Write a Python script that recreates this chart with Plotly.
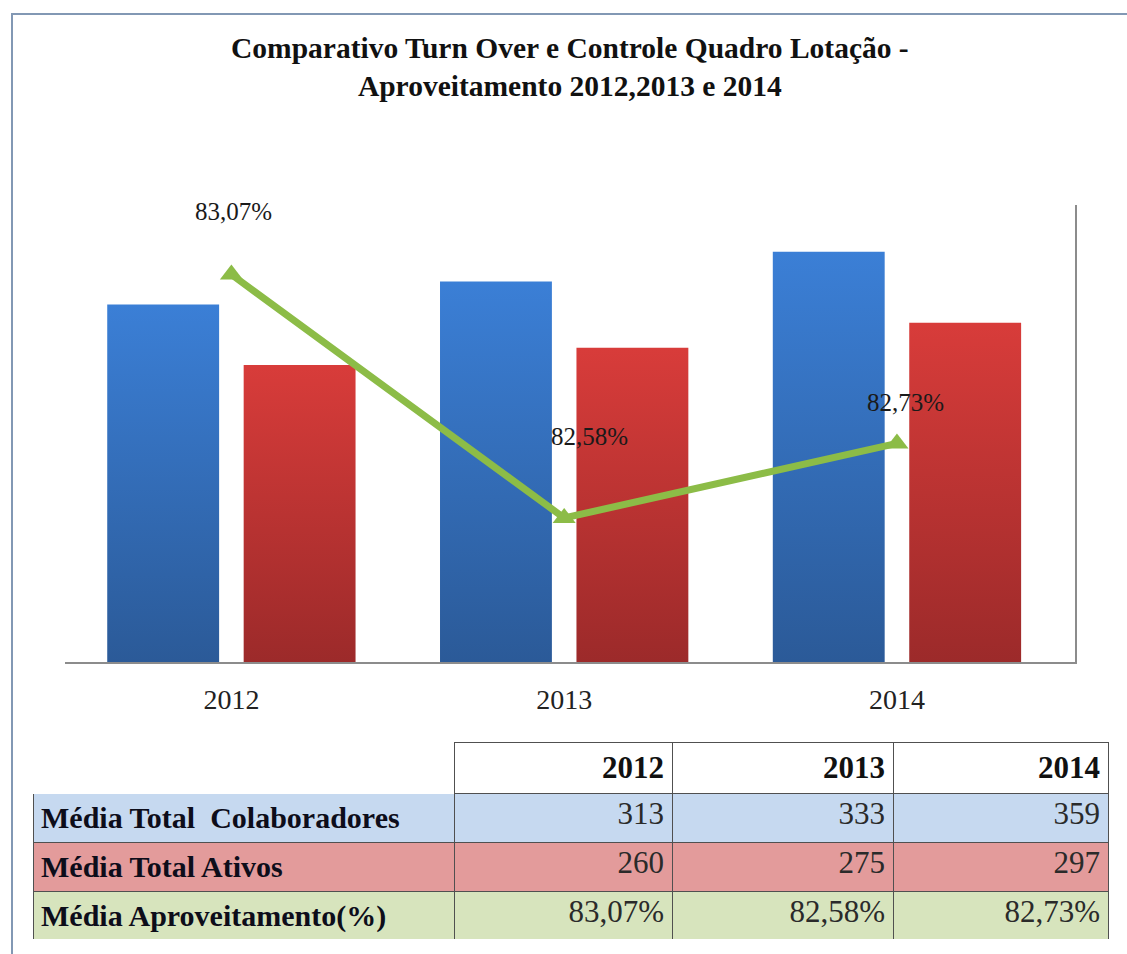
import plotly.graph_objects as go

# ---------------- data ----------------
years = ["2012", "2013", "2014"]
colaboradores = [313, 333, 359]
ativos = [260, 275, 297]
aproveitamento = [83.07, 82.58, 82.73]

row_labels = ["Média Total  Colaboradores", "Média Total Ativos", "Média Aproveitamento(%)"]
title_text = "Comparativo Turn Over e Controle Quadro Lotação -<br>Aproveitamento 2012,2013 e 2014"


def pct(v):
    return f"{v:.2f}".replace(".", ",") + "%"


W, H = 1127, 954
SERIF = "Liberation Serif, Times New Roman, serif"

BLUE = "#336eb9"
RED = "#bd3434"
GREEN = "#8cbc47"

fig = go.Figure()

fig.add_trace(go.Bar(x=years, y=colaboradores, marker=dict(color=BLUE, line=dict(width=0)),
                     name="Média Total Colaboradores", hoverinfo="skip"))
fig.add_trace(go.Bar(x=years, y=ativos, marker=dict(color=RED, line=dict(width=0)),
                     name="Média Total Ativos", hoverinfo="skip"))
fig.add_trace(go.Scatter(x=years, y=aproveitamento, yaxis="y2", mode="lines+markers",
                         line=dict(color=GREEN, width=7),
                         marker=dict(symbol="triangle-up", size=20, color=GREEN),
                         name="Média Aproveitamento(%)", hoverinfo="skip"))

# label offsets (pixels) for the line labels
label_shift = [(2, 63), (25, 81), (9, 41)]
for i, (v, (dx, dy)) in enumerate(zip(aproveitamento, label_shift)):
    fig.add_annotation(x=i, y=v, xref="x", yref="y2", text=pct(v), showarrow=False,
                       xshift=dx, yshift=dy,
                       font=dict(family=SERIF, size=25, color="#1a1a1a"))

# title
fig.add_annotation(x=570 / W, y=1 - 67 / H, xref="paper", yref="paper",
                   xanchor="center", yanchor="middle", showarrow=False,
                   text="<b>" + title_text + "</b>", align="center",
                   font=dict(family=SERIF, size=29.5, color="#111111"))

# ---------------- table ----------------
LBL_BLUE = "#c6d9f0"
LBL_RED = "#e39b9b"
LBL_GREEN = "#d7e4bd"
row_fill = [LBL_BLUE, LBL_RED, LBL_GREEN]

col0 = ["<b>" + t + "</b>" for t in row_labels]
cols = [col0]
for i in range(len(years)):
    cols.append([str(colaboradores[i]), str(ativos[i]), pct(aproveitamento[i])])

fig.add_trace(go.Table(
    domain=dict(x=[33 / W, 1108 / W], y=[1 - 939 / H, 1 - 742 / H]),
    columnwidth=[421, 218, 221, 215],
    header=dict(values=[""] + ["<b>" + y + "</b>" for y in years],
                fill=dict(color="white"),
                line=dict(color=["white", "#505050", "#505050", "#505050"], width=1),
                align="right", height=50,
                font=dict(family=SERIF, size=31, color="#111111")),
    cells=dict(values=cols,
               fill=dict(color=[row_fill] * 4),
               line=dict(color="#505050", width=1),
               align=["left", "right", "right", "right"], height=49,
               font=dict(family=SERIF, size=[30, 31, 31, 31],
                         color=["#0d0d1a", "#2a2a2a", "#2a2a2a", "#2a2a2a"])),
))

# ---------------- layout ----------------
fig.update_layout(
    width=W, height=H,
    margin=dict(l=0, r=0, t=0, b=0),
    paper_bgcolor="white", plot_bgcolor="white",
    showlegend=False,
    barmode="group", bargap=0.18, bargroupgap=0.18,
    xaxis=dict(domain=[65 / W, 1075 / W], type="category", range=[-0.5, 2.535],
               showline=True, linecolor="#8c8c8c", linewidth=1.5, ticks="",
               showgrid=False, zeroline=False, ticklabelstandoff=12,
               tickfont=dict(family=SERIF, size=28, color="#222222")),
    yaxis=dict(domain=[1 - 662 / H, 1 - 205 / H], range=[0, 400], visible=False,
               showgrid=False, zeroline=False),
    yaxis2=dict(overlaying="y", side="right", range=[82.29, 83.21], showline=True,
                linecolor="#8c8c8c", linewidth=1.5, showticklabels=False, ticks="",
                showgrid=False, zeroline=False),
    shapes=[dict(type="rect", xref="paper", yref="paper",
                 x0=12 / W, x1=1.02, y0=-0.02, y1=1 - 14 / H,
                 line=dict(color="#8298b4", width=2), fillcolor="rgba(0,0,0,0)",
                 layer="below")],
)

post = """
document.body.style.margin='0';
document.body.style.overflow='hidden';
var gd=document.getElementById('{plot_id}');
var svg=gd.querySelector('.main-svg');
var ns='http://www.w3.org/2000/svg';
var defs=svg.querySelector('defs');
function grad(id,c1,c2){
  var g=document.createElementNS(ns,'linearGradient');
  g.setAttribute('id',id);g.setAttribute('x1','0');g.setAttribute('y1','0');
  g.setAttribute('x2','0');g.setAttribute('y2','1');
  [['0',c1],['1',c2]].forEach(function(s){
    var st=document.createElementNS(ns,'stop');
    st.setAttribute('offset',s[0]);st.setAttribute('stop-color',s[1]);g.appendChild(st);});
  defs.appendChild(g);
}
grad('gradBlue','#3b7fd6','#2b5a98');
grad('gradRed','#d83c3a','#9c2a2a');
var traces=gd.querySelectorAll('.barlayer .trace');
if(traces.length>1){
  traces[0].querySelectorAll('path').forEach(function(p){p.style.fill='url(#gradBlue)';});
  traces[1].querySelectorAll('path').forEach(function(p){p.style.fill='url(#gradRed)';});
}
"""

fig.write_html("out.html", post_script=post, config={"displayModeBar": False})
